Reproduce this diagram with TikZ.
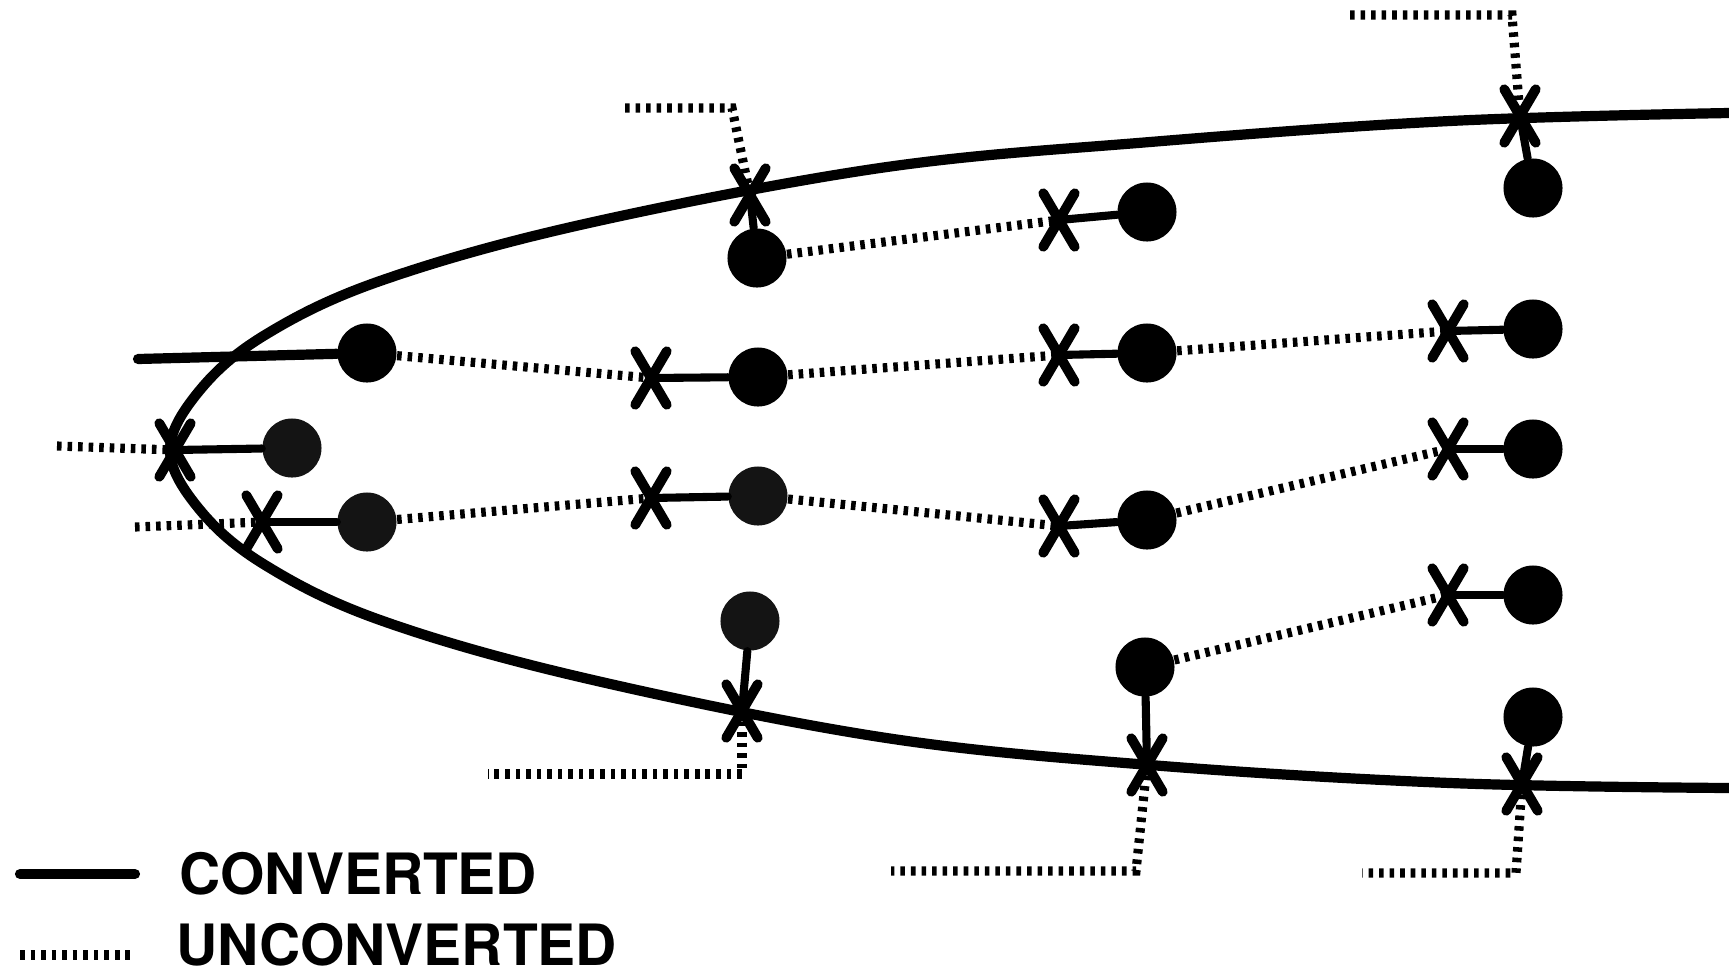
\documentclass[tikz,border=0pt]{standalone}
\usepackage{fontspec}
\setmainfont{TeX Gyre Heros}
\begin{document}
\begin{tikzpicture}[x=0.01cm,y=-0.01cm,
  conv/.style={line width=2.9pt,line cap=round,line join=round},
  link/.style={line width=2.3pt,line cap=round},
  unconv/.style={line width=2.6pt,dash pattern=on 1.3pt off 1.7pt},
  ball/.style={circle,fill=black,draw=none,inner sep=0pt,minimum size=5.9mm},
  gball/.style={ball,fill=black!92},
  xmark/.style={rectangle,draw=none,inner sep=0pt,minimum width=3.0mm,minimum height=5.2mm},
  xstroke/.style={line width=2.8pt,line cap=round},
  legend/.style={anchor=west,inner sep=0pt,font=\fontsize{16.2pt}{20pt}\selectfont\bfseries}]
\useasboundingbox (0,0) rectangle (1729,978);

% the converted boundary
\draw[conv] plot[smooth,tension=0.6] coordinates {
 (1729,113) (1450,121) (1150,142) (880,168) (580,225)
 (380,281) (265,335) (200,390)
 (170,450) (200,510) (265,565) (380,620)
 (580,677) (880,737) (1150,765) (1450,783) (1729,788)};

% balls
\node[ball]  (cA) at (367,353) {};
\node[gball] (cB) at (292,448) {};
\node[gball] (cC) at (367,522) {};
\node[ball]  (cD) at (757,258) {};
\node[ball]  (cE) at (758,377) {};
\node[gball] (cF) at (758,496) {};
\node[gball] (cG) at (750,621) {};
\node[ball]  (cH) at (1147,212) {};
\node[ball]  (cI) at (1147,353) {};
\node[ball]  (cJ) at (1147,520) {};
\node[ball]  (cK) at (1145,667) {};
\node[ball]  (cL) at (1533,188) {};
\node[ball]  (cM) at (1533,329) {};
\node[ball]  (cN) at (1533,449) {};
\node[ball]  (cO) at (1533,595) {};
\node[ball]  (cP) at (1533,717) {};

% crosses
\node[xmark] (xA) at (175,450) {};
\node[xmark] (xB) at (262,522) {};
\node[xmark] (xC) at (750,195) {};
\node[xmark] (xD) at (651,378) {};
\node[xmark] (xE) at (651,498) {};
\node[xmark] (xF) at (742,711) {};
\node[xmark] (xG) at (1059,220) {};
\node[xmark] (xH) at (1059,355) {};
\node[xmark] (xI) at (1059,526) {};
\node[xmark] (xJ) at (1147,765) {};
\node[xmark] (xK) at (1520,116) {};
\node[xmark] (xL) at (1448,331) {};
\node[xmark] (xM) at (1448,449) {};
\node[xmark] (xN) at (1448,595) {};
\node[xmark] (xO) at (1522,784) {};

% free ends of the unconverted lines
\coordinate (dA) at (57,446);
\coordinate (dB) at (135,527);
\coordinate (tL1) at (625,108);
\coordinate (tL2) at (732,108);
\coordinate (tR1) at (1350,15);
\coordinate (tR2) at (1512,15);
\coordinate (bA1) at (742,774);
\coordinate (bA2) at (488,774);
\coordinate (bB1) at (1136,871);
\coordinate (bB2) at (891,871);
\coordinate (bC1) at (1516,873);
\coordinate (bC2) at (1362,873);
\coordinate (sA) at (138,359);

% converted links
\draw[conv] (sA) -- (cA);
\foreach \x/\c in {xA/cB,xB/cC,xC/cD,xD/cE,xE/cF,xF/cG,xG/cH,xH/cI,xI/cJ,xJ/cK,xK/cL,xL/cM,xM/cN,xN/cO,xO/cP}
  \draw[link] (\x.center) -- (\c);

% unconverted links
\draw[unconv] (dA) -- (xA.center);
\draw[unconv] (dB) -- (xB.center);
\draw[unconv] (cA) -- (xD.center);
\draw[unconv] (cE) -- (xH.center);
\draw[unconv] (cI) -- (xL.center);
\draw[unconv] (cC) -- (xE.center);
\draw[unconv] (cF) -- (xI.center);
\draw[unconv] (cJ) -- (xM.center);
\draw[unconv] (cD) -- (xG.center);
\draw[unconv] (cK) -- (xN.center);
\draw[unconv] (tL1) -- (tL2) -- (xC.center);
\draw[unconv] (tR1) -- (tR2) -- (xK.center);
\draw[unconv] (xF.center) -- (bA1) -- (bA2);
\draw[unconv] (xJ.center) -- (bB1) -- (bB2);
\draw[unconv] (xO.center) -- (bC1) -- (bC2);

% X strokes
\foreach \n in {xA,xB,xC,xD,xE,xF,xG,xH,xI,xJ,xK,xL,xM,xN,xO}
  \draw[xstroke] (\n.north west) -- (\n.south east) (\n.north east) -- (\n.south west);

% legend
\coordinate (lA1) at (20,874);
\coordinate (lA2) at (135,874);
\coordinate (lB1) at (20,955);
\coordinate (lB2) at (135,955);
\draw[conv] (lA1) -- (lA2);
\draw[unconv] (lB1) -- (lB2);
\node[legend] (tA) at (179,874) {CONVERTED};
\node[legend] (tB) at (176,945) {UNCONVERTED};
\end{tikzpicture}
\end{document}
